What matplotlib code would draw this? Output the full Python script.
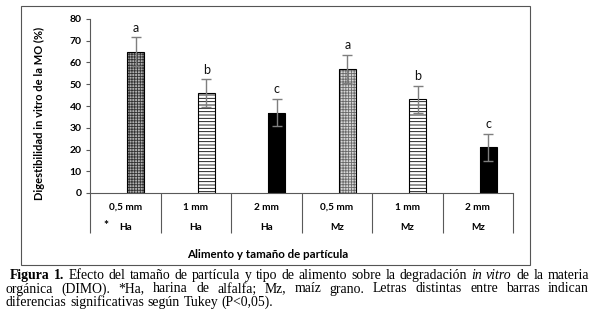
import matplotlib
matplotlib.use("Agg")
import matplotlib.pyplot as plt
from matplotlib.patches import Rectangle

# data
sizes = ["0,5 mm", "1 mm", "2 mm", "0,5 mm", "1 mm", "2 mm"]
feeds = ["Ha", "Ha", "Ha", "Mz", "Mz", "Mz"]
dimo = [65, 46, 37, 57, 43, 21]
err = [6.5, 6.3, 6.4, 6.6, 6.3, 6.3]
letters = ["a", "b", "c", "a", "b", "c"]
hatches = ["++++++", "-----", "", "++++++", "-----", ""]
hatch_colors = ["#333333", "black", "black", "#6a6a6a", "black", "black"]
fills = ["#b0b0b0", "white", "black", "#d8d8d8", "white", "black"]

W, H = 600, 326
plt.rcParams["hatch.linewidth"] = 0.6
fig = plt.figure(figsize=(W / 100, H / 100), dpi=100)


def fx(x):
    return x / W


def fy(y):
    return 1 - y / H


ax = fig.add_axes([fx(90), fy(193), fx(513) - fx(90), fy(19) - fy(193)])
ax.set_xlim(-0.5, 5.5)
ax.set_ylim(0, 80)

sans = ["Lato", "DejaVu Sans"]
line_c = "#595959"

xs = [i + 0.15 for i in range(len(dimo))]
# fill, hatch layer, then outline on top
ax.bar(xs, dimo, width=0.24, color=fills, linewidth=0, zorder=2)
for x, v, h, hc in zip(xs, dimo, hatches, hatch_colors):
    if h:
        ax.bar(x, v, width=0.24, color="none", edgecolor=hc, hatch=h,
               linewidth=0, zorder=2.1)
ax.bar(xs, dimo, width=0.24, fill=False, edgecolor="black", linewidth=0.8, zorder=2.2)
ax.errorbar(xs, dimo, yerr=err, fmt="none", ecolor="#7f7f7f", elinewidth=1,
            capsize=3.5, capthick=1, zorder=3)

for x, v, e, l in zip(xs, dimo, err, letters):
    ax.annotate(l, (x, v + e), xytext=(0, 2.5), textcoords="offset points",
                ha="center", va="bottom", fontsize=9, family=sans, color="#111111")

for s in ["top", "right"]:
    ax.spines[s].set_visible(False)
for s in ["left", "bottom"]:
    ax.spines[s].set_color(line_c)
    ax.spines[s].set_linewidth(0.8)

ax.set_yticks(range(0, 81, 10))
ax.tick_params(axis="y", direction="out", length=3, width=0.8, color=line_c,
               pad=3, labelsize=7.5)
for lab in ax.get_yticklabels():
    lab.set_fontweight("bold")
    lab.set_family(sans)

# category table under the bars
ax.set_xticks(range(6))
ax.set_xticklabels([])
ax.tick_params(axis="x", which="major", length=0)
ax.set_xticks([i - 0.5 for i in range(7)], minor=True)
ax.tick_params(axis="x", which="minor", direction="out", length=28.8,
               width=0.8, color=line_c)

tr = ax.get_xaxis_transform()
row1 = -(207 - 193) / 174
row2 = -(227 - 193) / 174
for i, (s, f) in enumerate(zip(sizes, feeds)):
    ax.text(i, row1, s, transform=tr, ha="center", va="center", fontsize=7.2,
            fontweight="bold", family=sans)
    ax.text(i, row2, f, transform=tr, ha="center", va="center", fontsize=7.2,
            fontweight="bold", family=sans)
ax.text(-0.27, row2 + 0.01, "*", transform=tr, ha="center", va="center",
        fontsize=8.5, fontweight="bold", family=sans)

fig.text(fx(39), fy(113), "Digestibilidad in vitro de la MO (%)", rotation=90,
         ha="center", va="center", fontsize=8, fontweight="bold", family=sans)
fig.text(fx(268), fy(254), "Alimento y tamaño de partícula", ha="center",
         va="center", fontsize=8.3, fontweight="bold", family=sans)

# outer frame
fig.add_artist(Rectangle((fx(21), fy(265)), fx(530) - fx(21), fy(6) - fy(265),
                         transform=fig.transFigure, fill=False,
                         edgecolor="#555555", linewidth=0.8))

# caption, justified like the source
serif = ["Liberation Serif", "DejaVu Serif"]
cap_lines = [
    ([("Figura", "bold", "normal"), ("1.", "bold", "normal"), ("Efecto", "normal", "normal"),
      ("del", "normal", "normal"), ("tamaño", "normal", "normal"), ("de", "normal", "normal"),
      ("partícula", "normal", "normal"), ("y", "normal", "normal"), ("tipo", "normal", "normal"),
      ("de", "normal", "normal"), ("alimento", "normal", "normal"), ("sobre", "normal", "normal"),
      ("la", "normal", "normal"), ("degradación", "normal", "normal"), ("in", "normal", "italic"),
      ("vitro", "normal", "italic"), ("de", "normal", "normal"), ("la", "normal", "normal"),
      ("materia", "normal", "normal")], 10, 589, 279, True),
    ([(w, "normal", "normal") for w in
      "orgánica (DIMO). *Ha, harina de alfalfa;  Mz, maíz grano. Letras distintas  entre barras indican".split()],
     6, 589, 292.5, True),
    ([(w, "normal", "normal") for w in
      "diferencias significativas según Tukey (P<0,05).".split()], 6, 589, 306, False),
]

fig.canvas.draw()
renderer = fig.canvas.get_renderer()
fs = 9.9
for words, x0, x1, yb, justify in cap_lines:
    texts = [fig.text(0, fy(yb), w, fontsize=fs, fontweight=wt, fontstyle=st,
                      family=serif, va="baseline", ha="left")
             for w, wt, st in words]
    widths = [t.get_window_extent(renderer).width for t in texts]
    if justify:
        gap = (x1 - x0 - sum(widths)) / (len(words) - 1)
    else:
        sp = fig.text(0, 0, "a a", fontsize=fs, family=serif)
        sp2 = fig.text(0, 0, "aa", fontsize=fs, family=serif)
        gap = sp.get_window_extent(renderer).width - sp2.get_window_extent(renderer).width
        sp.remove()
        sp2.remove()
    x = x0
    for t, wd in zip(texts, widths):
        t.set_x(fx(x))
        x += wd + gap

fig.savefig("out.png", dpi=100)
